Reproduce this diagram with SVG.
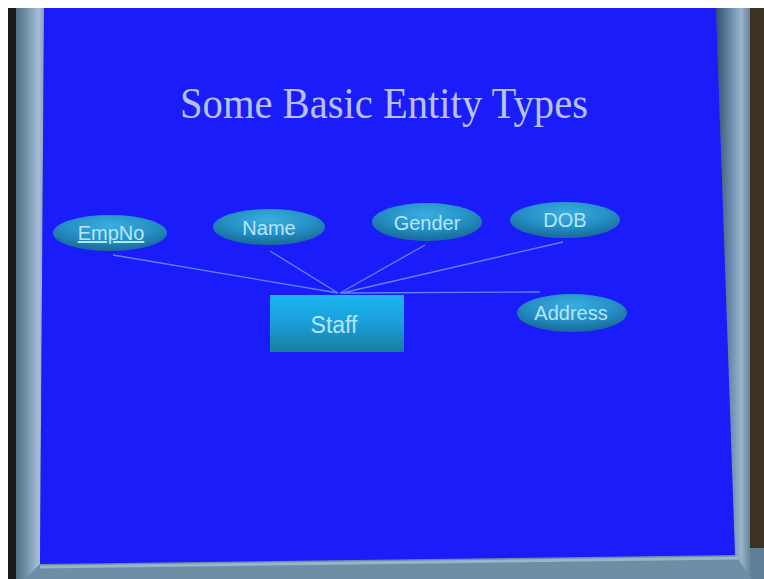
<svg xmlns="http://www.w3.org/2000/svg" width="764" height="579" viewBox="0 0 764 579">
<defs>
<linearGradient id="boxg" x1="0" y1="0" x2="0" y2="1">
<stop offset="0" stop-color="#1cb4f4"/>
<stop offset="0.5" stop-color="#1a9ed8"/>
<stop offset="1" stop-color="#1a7e9c"/>
</linearGradient>
<radialGradient id="ellg" cx="0.5" cy="0.3" r="0.65">
<stop offset="0" stop-color="#3aaee0"/>
<stop offset="0.6" stop-color="#2590c4"/>
<stop offset="1" stop-color="#1a6fa0"/>
</radialGradient>
<linearGradient id="frameL" x1="0" y1="0" x2="1" y2="0">
<stop offset="0" stop-color="#4f6e80"/>
<stop offset="0.5" stop-color="#7f9fb8"/>
<stop offset="0.8" stop-color="#a8bcd8"/>
<stop offset="1" stop-color="#8aa0c0"/>
</linearGradient>
<linearGradient id="frameR" x1="0" y1="0" x2="1" y2="0">
<stop offset="0" stop-color="#34506a"/>
<stop offset="0.4" stop-color="#6a8cac"/>
<stop offset="0.7" stop-color="#9ab4cc"/>
<stop offset="1" stop-color="#5c7a90"/>
</linearGradient>
<style>
.ell{fill:url(#ellg)}
.lbl{font-family:"Liberation Sans",Arial,sans-serif;font-size:20px;fill:#b4e6ff;text-anchor:middle}
.con{stroke:#5f86ff;stroke-width:1.3;fill:none}
</style>
</defs>
<rect x="0" y="0" width="764" height="579" fill="#5f7f96"/>
<rect x="0" y="0" width="764" height="8" fill="#ffffff"/>
<rect x="0" y="0" width="8" height="579" fill="#ffffff"/>
<rect x="8" y="8" width="8" height="571" fill="#161b1a"/>
<polygon points="16,8 44,8 40,564 26,579 16,579" fill="url(#frameL)"/>
<polygon points="716,8 750,8 752,579 735,560" fill="url(#frameR)"/>
<rect x="750" y="8" width="14" height="540" fill="#3c3222"/>
<polygon points="26,579 40,564 735,555 752,579" fill="#6d8ea4"/>
<line x1="40" y1="567" x2="738" y2="558" stroke="#9ab4c8" stroke-width="3"/>
<polygon points="44,8 716,8 735,555 40,564" fill="#1a1cfa"/>
<text x="384" y="118" font-family="Liberation Serif,Times New Roman,serif" font-size="44" fill="#b8c2f2" text-anchor="middle" textLength="408" lengthAdjust="spacingAndGlyphs">Some Basic Entity Types</text>
<g id="connectors">
<line class="con" x1="113" y1="255" x2="338" y2="293"/>
<line class="con" x1="270" y1="251" x2="338" y2="293"/>
<line class="con" x1="425" y1="245" x2="340" y2="293"/>
<line class="con" x1="563" y1="242" x2="342" y2="293"/>
<line class="con" x1="340" y1="293" x2="540" y2="292"/>
</g>
<g id="staff">
<rect x="270" y="295" width="134" height="57" fill="url(#boxg)"/>
<text class="lbl" x="334" y="333" style="font-size:23px">Staff</text>
</g>
<g id="empno">
<ellipse class="ell" cx="110" cy="233" rx="57" ry="18"/>
<text class="lbl" x="111" y="240" text-decoration="underline">EmpNo</text>
</g>
<g id="name">
<ellipse class="ell" cx="269" cy="227" rx="56" ry="18"/>
<text class="lbl" x="269" y="235">Name</text>
</g>
<g id="gender">
<ellipse class="ell" cx="427" cy="222" rx="55" ry="19"/>
<text class="lbl" x="427" y="230">Gender</text>
</g>
<g id="dob">
<ellipse class="ell" cx="565" cy="220" rx="55" ry="18"/>
<text class="lbl" x="565" y="227">DOB</text>
</g>
<g id="address">
<ellipse class="ell" cx="572" cy="313" rx="55" ry="19"/>
<text class="lbl" x="571" y="320">Address</text>
</g>
</svg>
